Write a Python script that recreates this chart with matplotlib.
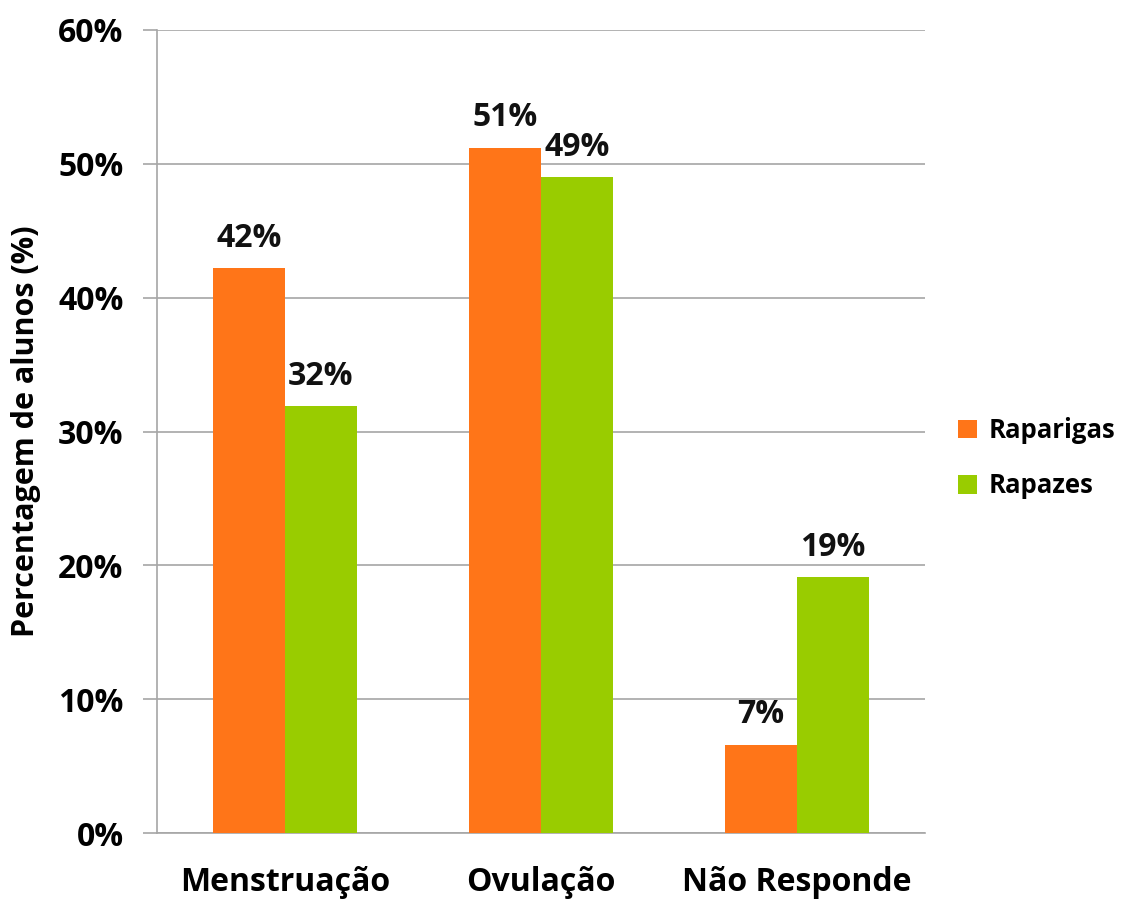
import matplotlib
matplotlib.use("Agg")
import matplotlib.pyplot as plt
import numpy as np
from matplotlib.ticker import FuncFormatter

categories = ["Menstruação", "Ovulação", "Não Responde"]
raparigas = [42.2, 51.2, 6.6]
rapazes = [31.9, 49.0, 19.1]
labels_rap = ["42%", "51%", "7%"]
labels_rpz = ["32%", "49%", "19%"]
series_names = ["Raparigas", "Rapazes"]
yticks = [0, 10, 20, 30, 40, 50, 60]

plt.rcParams['font.family'] = ['Open Sans', 'DejaVu Sans']
plt.rcParams['font.weight'] = 'bold'

orange = "#FF7518"
green = "#99CC00"

fig = plt.figure(figsize=(11.3, 9.02), dpi=100)
ax = fig.add_axes([157/1130, 69/902, 768/1130, 803/902])

x = np.arange(len(categories))
w = 0.28
b1 = ax.bar(x - w/2, raparigas, w, color=orange, label=series_names[0], zorder=3)
b2 = ax.bar(x + w/2, rapazes, w, color=green, label=series_names[1], zorder=3)

for bars, labs in ((b1, labels_rap), (b2, labels_rpz)):
    for bar, lab in zip(bars, labs):
        ax.text(bar.get_x() + bar.get_width()/2, bar.get_height() + 1.0, lab,
                ha='center', va='bottom', fontsize=23, fontweight='bold', color='#111111')

ax.set_xlim(-0.5, 2.5)
ax.set_ylim(0, 60)
ax.set_yticks(yticks)
ax.yaxis.set_major_formatter(FuncFormatter(lambda v, p: f"{int(v)}%"))
ax.set_xticks(x)
ax.set_xticklabels(categories, fontsize=23, fontweight='bold')
ax.tick_params(axis='y', labelsize=23, length=10, color='#A6A6A6', width=1.2, pad=14)
ax.tick_params(axis='x', length=0, pad=24)
for t in ax.get_yticklabels():
    t.set_fontweight('bold')

ax.grid(axis='y', color='#A6A6A6', linewidth=1.2, zorder=0)
for s in ['top', 'right']:
    ax.spines[s].set_visible(False)
ax.spines['left'].set_color('#A6A6A6')
ax.spines['bottom'].set_color('#A6A6A6')
ax.spines['left'].set_linewidth(1.2)
ax.spines['bottom'].set_linewidth(1.2)

ax.set_ylabel("Percentagem de alunos (%)", fontsize=22, fontweight='bold', labelpad=12)

leg = fig.legend(loc='upper left', bbox_to_anchor=(958/1130, 1 - 417/902), frameon=False,
                 fontsize=18.5, handlelength=0.75, handleheight=0.75, handletextpad=0.45,
                 labelspacing=1.1, borderpad=0, borderaxespad=0)
for t in leg.get_texts():
    t.set_fontweight('bold')

fig.savefig("out.png", dpi=100, facecolor='white')
